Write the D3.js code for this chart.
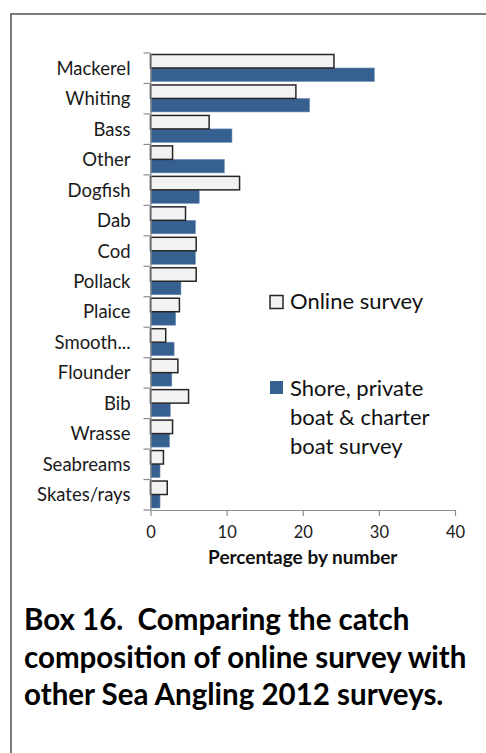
<!DOCTYPE html>
<html><head><meta charset="utf-8">
<script src="https://cdn.jsdelivr.net/npm/d3@7"></script>
<style>html,body{margin:0;padding:0;background:#fff;}svg{display:block;}</style>
</head><body>
<script>
const categories = ["Mackerel","Whiting","Bass","Other","Dogfish","Dab","Cod","Pollack","Plaice","Smooth...","Flounder","Bib","Wrasse","Seabreams","Skates/rays"];
const onlineSurvey = [24.1,19.1,7.7,2.9,11.7,4.6,6.0,6.0,3.8,2.0,3.6,5.0,2.9,1.7,2.2];
const otherSurveys = [29.4,20.9,10.7,9.7,6.4,5.9,5.9,4.0,3.3,3.1,2.8,2.6,2.5,1.25,1.25];
const xTicks = [0,10,20,30,40];
const seriesNames = ["Online survey","Shore, private boat & charter boat survey"];
const titleLines = ["Box 16.  Comparing the catch","composition of online survey with","other Sea Angling 2012 surveys."];

const W = 486, H = 753;
const font = "Lato, 'Open Sans', sans-serif";
const svg = d3.select("body").append("svg").attr("width", W).attr("height", H);

// frame
svg.append("rect").attr("x",11).attr("y",14).attr("width",600).attr("height",900)
  .attr("fill","none").attr("stroke","#595959").attr("stroke-width",1.6);

const x = d3.scaleLinear().domain([0,40]).range([150.5,455]);
const y = d3.scaleBand().domain(categories).range([53,510]).padding(0);
const sub = d3.scaleBand().domain(["online","other"]).range([1.5, y.bandwidth()-2]).padding(0);

const rows = categories.map((c,i)=>({c, online:onlineSurvey[i], other:otherSurveys[i]}));

// bars
const g = svg.append("g");
g.selectAll("rect.other").data(rows).join("rect").attr("class","other")
  .attr("x", x(0)).attr("y", d=>y(d.c)+sub("other"))
  .attr("width", d=>x(d.other)-x(0)).attr("height", sub.bandwidth())
  .attr("fill","#35608f").attr("stroke","#6f8fb8").attr("stroke-width",0.6);
g.selectAll("rect.online").data(rows).join("rect").attr("class","online")
  .attr("x", x(0)).attr("y", d=>y(d.c)+sub("online"))
  .attr("width", d=>x(d.online)-x(0)).attr("height", sub.bandwidth())
  .attr("fill","#f2f2f2").attr("stroke","#262626").attr("stroke-width",1.5);

// y axis
const yAxis = svg.append("g").attr("transform",`translate(${x(0)},0)`)
  .call(d3.axisLeft(y).tickSize(0).tickPadding(20));
yAxis.select(".domain").attr("stroke","#8c8c8c").attr("stroke-width",1.2);
yAxis.selectAll("text").attr("font-family",font).attr("font-size",18.5).attr("fill","#1a1a1a").attr("dy","0.35em");
// category separator ticks
const sepVals = categories.map(c=>y(c)).concat([y.range()[1]]);
svg.append("g").selectAll("line").data(sepVals).join("line")
  .attr("x1",x(0)-7).attr("x2",x(0)).attr("y1",d=>d).attr("y2",d=>d)
  .attr("stroke","#8c8c8c").attr("stroke-width",1.2);

// x axis
const xAxis = svg.append("g").attr("transform",`translate(0,${y.range()[1]})`)
  .call(d3.axisBottom(x).tickValues(xTicks).tickSize(6).tickPadding(10).tickSizeOuter(0));
xAxis.select(".domain").attr("stroke","#8c8c8c").attr("stroke-width",1.2);
xAxis.selectAll("line").attr("stroke","#8c8c8c").attr("stroke-width",1.2);
xAxis.selectAll("text").attr("font-family",font).attr("font-size",16.5).attr("fill","#1a1a1a");

svg.append("text").attr("x",(x(0)+x(40))/2).attr("y",564).attr("text-anchor","middle")
  .attr("font-family",font).attr("font-weight","bold").attr("font-size",19).attr("fill","#111")
  .text("Percentage by number");

// legend
const leg = svg.append("g");
leg.append("rect").attr("x",270).attr("y",295.5).attr("width",13).attr("height",13)
  .attr("fill","#f2f2f2").attr("stroke","#262626").attr("stroke-width",1.5);
leg.append("text").attr("x",290).attr("y",309).attr("font-family",font).attr("font-size",22)
  .attr("fill","#111").text(seriesNames[0]);
leg.append("rect").attr("x",270).attr("y",381).attr("width",13).attr("height",13)
  .attr("fill","#35608f");
const legLines = ["Shore, private","boat & charter","boat survey"];
leg.selectAll("text.l2").data(legLines).join("text").attr("class","l2")
  .attr("x",290).attr("y",(d,i)=>396+i*29).attr("font-family",font).attr("font-size",22)
  .attr("fill","#111").text(d=>d);

// title
const tt = svg.append("g");
tt.selectAll("text").data(titleLines).join("text")
  .attr("x",24).attr("y",(d,i)=>630+i*37.5).style("white-space","pre")
  .attr("font-family",font).attr("font-weight","bold").attr("font-size",29.5).attr("fill","#000")
  .text(d=>d);
</script>
</body></html>
